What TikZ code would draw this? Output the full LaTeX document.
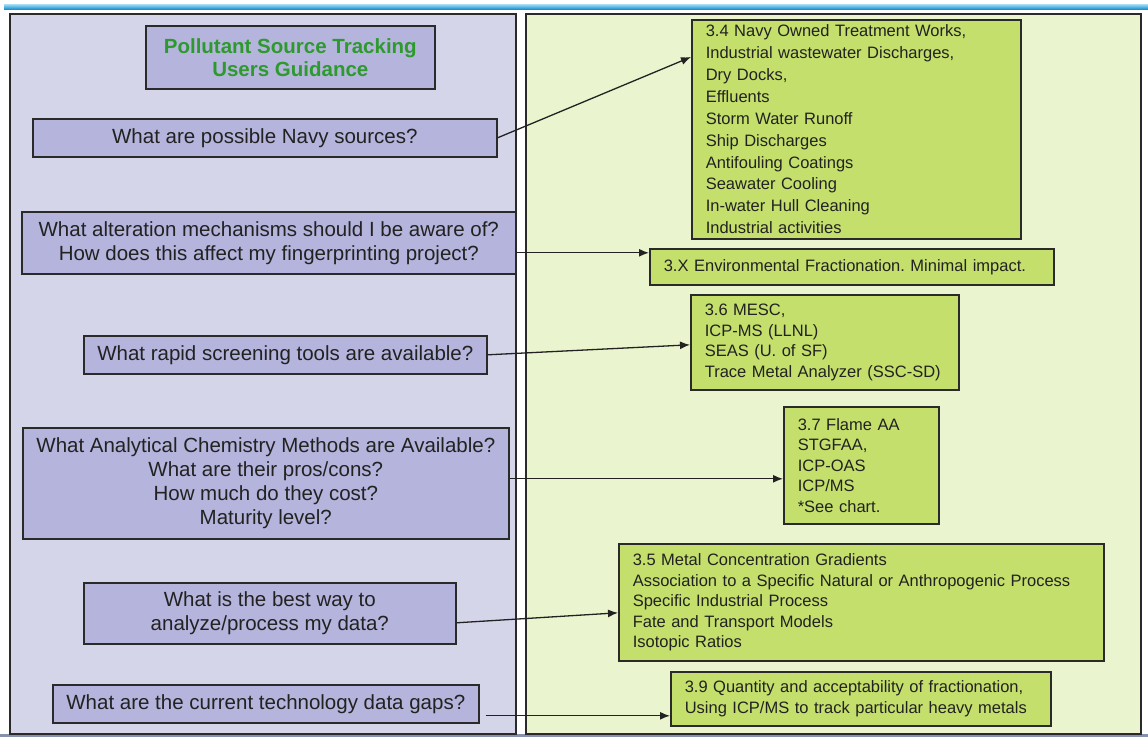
\documentclass[tikz,border=0pt]{standalone}
\usepackage{fontspec}
\setmainfont{Liberation Sans}
\usetikzlibrary{arrows.meta,calc}
\definecolor{panelL}{HTML}{D5D5EA}
\definecolor{panelR}{HTML}{EAF4CE}
\definecolor{qfill}{HTML}{B4B4DC}
\definecolor{afill}{HTML}{C4DF6B}
\definecolor{edge}{HTML}{2A2A2A}
\definecolor{ink}{HTML}{222222}
\definecolor{titlegreen}{HTML}{2E9A2E}
\definecolor{bandtop}{HTML}{A8E0F6}
\definecolor{bandbot}{HTML}{1C92D2}
\definecolor{footline}{HTML}{8593AA}
\frenchspacing
\begin{document}
\begin{tikzpicture}[x=1pt,y=-1pt,
  panel/.style={draw=edge, line width=1.5pt},
  qbox/.style={draw=edge, fill=qfill, line width=1.6pt, anchor=north west,
    inner sep=0pt, align=center, text=ink, font=\fontsize{20.5}{24}\selectfont},
  abox/.style={draw=edge, fill=afill, line width=1.6pt, anchor=north west,
    inner xsep=14pt, inner ysep=0pt, align=left, text=ink,
    font=\fontsize{16.5}{20.5}\selectfont},
  arr/.style={draw=ink, line width=1.3pt, -{Latex[length=10pt,width=8pt]}}
]
% page and frame lines
\fill[white] (0,0) rectangle (1148,737);
\useasboundingbox (0,0) rectangle (1148,737);
\shade[top color=bandtop, bottom color=bandbot] (4,4) rectangle (1148,9);
\fill[footline] (0,734) rectangle (1148,737);

% the two panels
\draw[panel, fill=panelL] (10,14) rectangle (516,734);
\draw[panel, fill=panelR] (526,14) rectangle (1141,734);

% title
\node[qbox, text=titlegreen, font=\bfseries\fontsize{20.5}{23}\selectfont,
  minimum width=289pt, minimum height=63pt] (title) at (145,25)
  {Pollutant Source Tracking\\Users Guidance};

% questions
\node[qbox, minimum width=464pt, minimum height=38pt] (q1) at (32,118)
  {What are possible Navy sources?};
\node[qbox, minimum width=494pt, minimum height=62pt] (q2) at (21,211)
  {What alteration mechanisms should I be aware of?\\How does this affect my fingerprinting project?};
\node[qbox, minimum width=403pt, minimum height=38pt] (q3) at (83,335)
  {What rapid screening tools are available?};
\node[qbox, minimum width=486pt, minimum height=111pt] (q4) at (22,427)
  {What Analytical Chemistry Methods are Available?\\What are their pros/cons?\\How much do they cost?\\Maturity level?};
\node[qbox, minimum width=372pt, minimum height=61pt] (q5) at (83,582)
  {What is the best way to\\analyze/process my data?};
\node[qbox, minimum width=426pt, minimum height=38pt] (q6) at (52,684)
  {What are the current technology data gaps?};

% answers
\node[abox, text width=301pt, minimum height=219pt,
  font=\fontsize{16.5}{21.9}\selectfont] (a1) at (691,19)
  {3.4 Navy Owned Treatment Works,\\Industrial wastewater Discharges,\\Dry Docks,\\Effluents\\Storm Water Runoff\\Ship Discharges\\Antifouling Coatings\\Seawater Cooling\\In-water Hull Cleaning\\Industrial activities};
\node[abox, text width=376pt, minimum height=36pt] (a2) at (649,248)
  {3.X Environmental Fractionation. Minimal impact.};
\node[abox, text width=240pt, minimum height=95pt] (a3) at (690,294)
  {3.6 MESC,\\ICP-MS (LLNL)\\SEAS (U. of SF)\\Trace Metal Analyzer (SSC-SD)};
\node[abox, text width=127pt, minimum height=117pt] (a4) at (783,406)
  {3.7 Flame AA\\STGFAA,\\ICP-OAS\\ICP/MS\\{*}See chart.};
\node[abox, text width=457pt, minimum height=117pt] (a5) at (618,543)
  {3.5 Metal Concentration Gradients\\Association to a Specific Natural or Anthropogenic Process\\Specific Industrial Process\\Fate and Transport Models\\Isotopic Ratios};
\node[abox, text width=352pt, minimum height=54pt] (a6) at (670,671)
  {3.9 Quantity and acceptability of fractionation,\\Using ICP/MS to track particular heavy metals};

% connectors
\draw[arr] (q1.east) -- ([yshift=-38pt]a1.north west);
\coordinate (s2) at ($(q2.east)+(0,10)$);
\draw[arr] (s2) -- (s2 -| a2.west);
\draw[arr] (q3.east) -- ($(a3.west)+(0,2.5)$);
\coordinate (s4) at ($(q4.east)+(0,-4.5)$);
\draw[arr] (s4) -- (s4 -| a4.west);
\draw[arr] ($(q5.east)+(0,9.5)$) -- ($(a5.west)+(0,10.5)$);
\coordinate (s6) at ($(q6.east)+(6,12)$);
\draw[arr] (s6) -- (s6 -| a6.west);
\end{tikzpicture}
\end{document}
